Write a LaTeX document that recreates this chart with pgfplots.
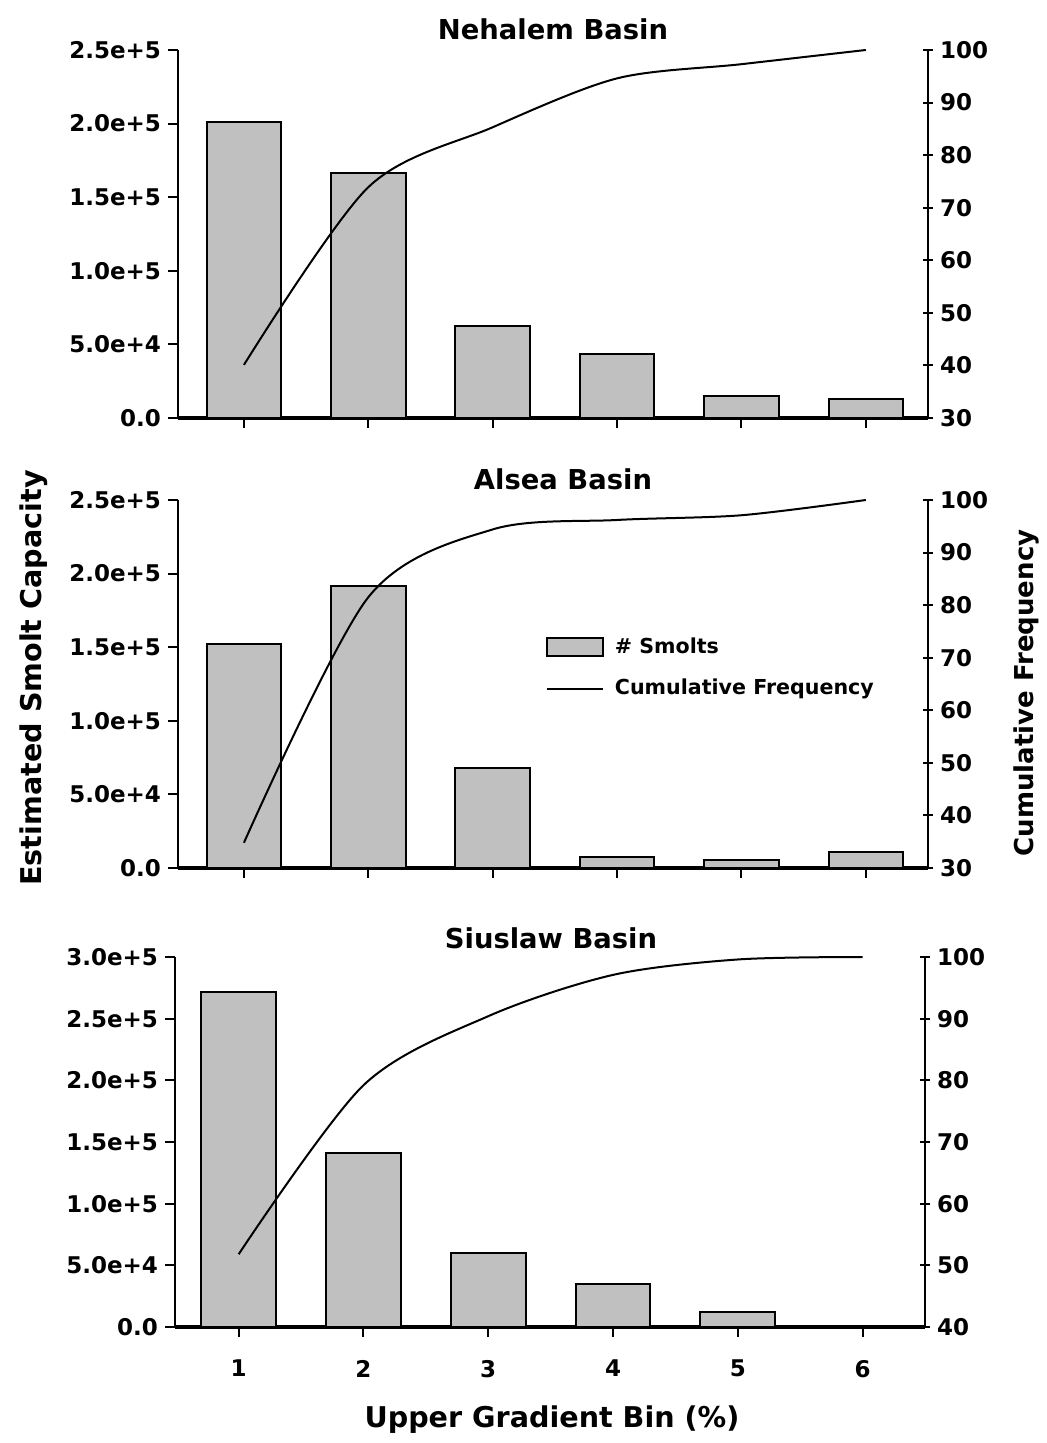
\documentclass[border=0pt]{standalone}
\usepackage{fontspec}
\setmainfont{DejaVu Sans}
\usepackage{pgfplots}
\pgfplotsset{compat=1.18}
\definecolor{barfill}{HTML}{C0C0C0}
\pgfplotsset{
  base/.style={scale only axis, width=375pt, xmax=6.5,
    /pgf/number format/assume math mode=true,
    scaled y ticks=false,
    every tick/.style={black, line width=1pt},
    tick align=outside, major tick length=5pt,
    tick label style={font=\fontsize{11.5}{13}\selectfont\bfseries},
    clip=false},
  leftax/.style={base, ymin=0, axis x line*=bottom, axis y line*=left,
    xtick={1,...,6}, x axis line style={line width=1.6pt},
    y axis line style={line width=1pt}},
  rightax/.style={base, axis y line*=right, axis x line=none,
    y axis line style={line width=1pt}, ytick align=center},
  bars/.style={ybar, bar width=0.6, fill=barfill, draw=black, line width=1pt},
  cum/.style={smooth, tension=0.5, line width=1pt, black, no marks},
}
\begin{document}
\begin{tikzpicture}
\path[use as bounding box] (0pt,0pt) rectangle (523pt,721.5pt);
% ---------- Panel 1: Nehalem ----------
\begin{axis}[leftax, at={(89pt,512.5pt)}, anchor=south west, height=184pt, xmin=0.47,
  ymax=250000, ytick={0,50000,100000,150000,200000,250000},
  yticklabels={0.0,5.0e+4,1.0e+5,1.5e+5,2.0e+5,2.5e+5}, xticklabels={}]
\addplot[bars] coordinates {(1,201000) (2,166500) (3,62500) (4,43500) (5,14900) (6,12900)};
\end{axis}
\begin{axis}[rightax, at={(89pt,512.5pt)}, anchor=south west, height=184pt, xmin=0.47,
  ymin=30, ymax=100, ytick={30,40,...,100}]
\addplot[cum] coordinates {(1,40.1) (2,73.9) (3,85.3) (4,94.6) (5,97.3) (6,100)};
\end{axis}
% ---------- Panel 2: Alsea ----------
\begin{axis}[leftax, at={(89pt,287.5pt)}, anchor=south west, height=184pt, xmin=0.47,
  ymax=250000, ytick={0,50000,100000,150000,200000,250000},
  yticklabels={0.0,5.0e+4,1.0e+5,1.5e+5,2.0e+5,2.5e+5}, xticklabels={}]
\addplot[bars] coordinates {(1,152200) (2,191600) (3,67900) (4,7500) (5,5400) (6,10900)};
\end{axis}
\begin{axis}[rightax, at={(89pt,287.5pt)}, anchor=south west, height=184pt, xmin=0.47,
  ymin=30, ymax=100, ytick={30,40,...,100},
  legend style={at={(0.49,0.638)}, anchor=north west, draw=none, fill=none,
    font=\fontsize{10.3}{12}\selectfont\bfseries, row sep=7.5pt,
    cells={anchor=west}, inner sep=0pt}]
\addlegendimage{legend image code/.code={\draw[fill=barfill,draw=black,line width=1pt] (0pt,-4.5pt) rectangle (28pt,4.5pt);}}
\addlegendentry{\hspace{3.5pt}\# Smolts}
\addplot[cum, legend image code/.code={\draw[line width=1pt] (0pt,0pt) -- (28pt,0pt);}]
  coordinates {(1,34.8) (2,81.5) (3,94.4) (4,96.2) (5,97.1) (6,100)};
\addlegendentry{\hspace{3.5pt}Cumulative Frequency}
\end{axis}
% ---------- Panel 3: Siuslaw ----------
\begin{axis}[leftax, at={(87.5pt,58pt)}, anchor=south west, height=185pt, xmin=0.49,
  ymax=300000, ytick={0,50000,100000,150000,200000,250000,300000},
  yticklabels={0.0,5.0e+4,1.0e+5,1.5e+5,2.0e+5,2.5e+5,3.0e+5},
  xticklabels={1,2,3,4,5,6}, xticklabel style={yshift=-8pt}]
\addplot[bars] coordinates {(1,272000) (2,141000) (3,60000) (4,34900) (5,12200) (6,1000)};
\end{axis}
\begin{axis}[rightax, at={(87.5pt,58pt)}, anchor=south west, height=185pt, xmin=0.49,
  ymin=40, ymax=100, ytick={40,50,...,100}]
\addplot[cum] coordinates {(1,51.8) (2,79.2) (3,90.4) (4,97.1) (5,99.6) (6,100)};
\end{axis}
% ---------- Titles and axis labels ----------
\node[font=\fontsize{13.7}{16}\selectfont\bfseries] at (276.5pt,707pt) {Nehalem Basin};
\node[font=\fontsize{13.7}{16}\selectfont\bfseries] at (281.5pt,482pt) {Alsea Basin};
\node[font=\fontsize{13.7}{16}\selectfont\bfseries] at (275.5pt,252.5pt) {Siuslaw Basin};
\node[font=\fontsize{14.3}{16}\selectfont\bfseries, rotate=90] at (17pt,382.5pt) {Estimated Smolt Capacity};
\node[font=\fontsize{13}{16}\selectfont\bfseries, rotate=90] at (513pt,375pt) {Cumulative Frequency};
\node[font=\fontsize{14.3}{16}\selectfont\bfseries] at (276pt,11.5pt) {Upper Gradient Bin (\%)};
\end{tikzpicture}
\end{document}
